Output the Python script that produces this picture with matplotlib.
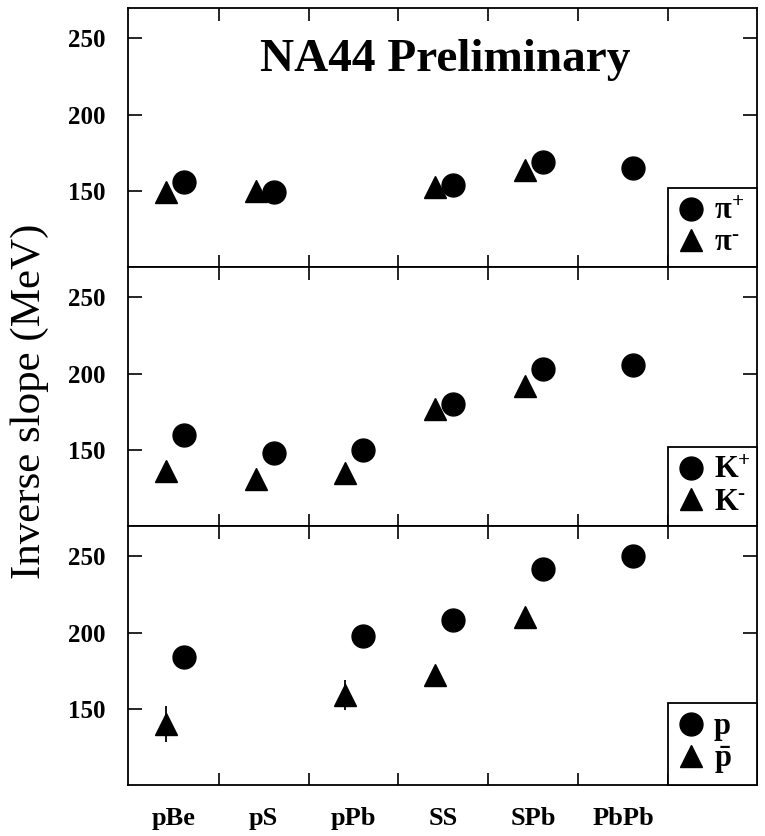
import numpy as np
import matplotlib
matplotlib.use("Agg")
import matplotlib.pyplot as plt

plt.rcParams['font.family'] = 'serif'
plt.rcParams['font.serif'] = ['Liberation Serif', 'DejaVu Serif']
plt.rcParams['mathtext.fontset'] = 'custom'
plt.rcParams['mathtext.rm'] = 'Liberation Serif:bold'
plt.rcParams['mathtext.it'] = 'Liberation Serif:bold'
plt.rcParams['mathtext.bf'] = 'Liberation Serif:bold'

# collision systems
systems = ["pBe", "pS", "pPb", "SS", "SPb", "PbPb"]

# inverse slopes (MeV), nan = no point
pi_plus = [156, 149, np.nan, 154, 169, 165]
pi_minus = [149, 150, np.nan, 152.5, 164, np.nan]
k_plus = [160, 148, 150, 180, 203, 206]
k_minus = [136, 131, 135, 177, 192, np.nan]
p = [184, np.nan, 198, 208, 242, 250]
pbar = [140, np.nan, 159, 172, 210, np.nan]
pbar_err = [12, np.nan, 10, 0, 0, np.nan]

panels = [
    (pi_plus, pi_minus, None, r"$\pi^{+}$", "$\\pi^{\u2010}$"),
    (k_plus, k_minus, None, r"K$^{+}$", "K$^{\u2010}$"),
    (p, pbar, pbar_err, "p", r"$\bar{\mathrm{p}}$"),
]

x = np.arange(len(systems))
dx_pos, dx_neg = 0.11, -0.09

fig, axes = plt.subplots(3, 1, sharex=True, figsize=(7.65, 8.36), dpi=100)
fig.subplots_adjust(left=0.1673, right=0.9895, top=0.9904, bottom=0.061, hspace=0)

for ax, (pos, neg, err, lab_pos, lab_neg) in zip(axes, panels):
    if err is not None:
        ax.errorbar(x + dx_neg, neg, yerr=err, fmt='none', ecolor='black',
                    elinewidth=1.3, capsize=0)
    ax.plot(x + dx_pos, pos, 'o', color='black', ms=16.5, label=lab_pos)
    ax.plot(x + dx_neg, neg, '^', color='black', ms=16.5, label=lab_neg)

    ax.set_xlim(-0.51, 6.49)
    ax.set_ylim(100, 270)
    ax.set_yticks([150, 200, 250])
    ax.set_xticks(x)
    ax.set_xticks(x + 0.5, minor=True)
    ax.tick_params(axis='y', direction='in', length=10, width=1.2, right=True,
                   labelsize=18, pad=16)
    ax.tick_params(axis='x', which='major', length=0, labelsize=19, pad=16)
    ax.tick_params(axis='x', which='minor', direction='in', length=9, width=1.2,
                   top=True)
    for lbl in ax.get_yticklabels():
        lbl.set_fontweight('bold')
    for s in ax.spines.values():
        s.set_linewidth(1.3)

    leg = ax.legend(loc='lower left', bbox_to_anchor=(0.8585, 0.0, 0.1415, 0.29),
                    mode='expand', borderaxespad=0, fancybox=False,
                    edgecolor='black', framealpha=1, handlelength=0.9,
                    handletextpad=0.3, labelspacing=0.08, borderpad=0.3,
                    prop=dict(family='serif', weight='bold', size=22))
    leg.get_frame().set_linewidth(1.3)

axes[-1].set_xticklabels(systems, fontweight='bold')

axes[0].text(0.504, 0.80, "NA44 Preliminary", transform=axes[0].transAxes,
             ha='center', va='center', fontsize=34, fontweight='bold')

fig.text(0.039, 0.52, "Inverse slope (MeV)", rotation=90, ha='center',
         va='center', fontsize=31)

fig.savefig("out.png", dpi=100)
